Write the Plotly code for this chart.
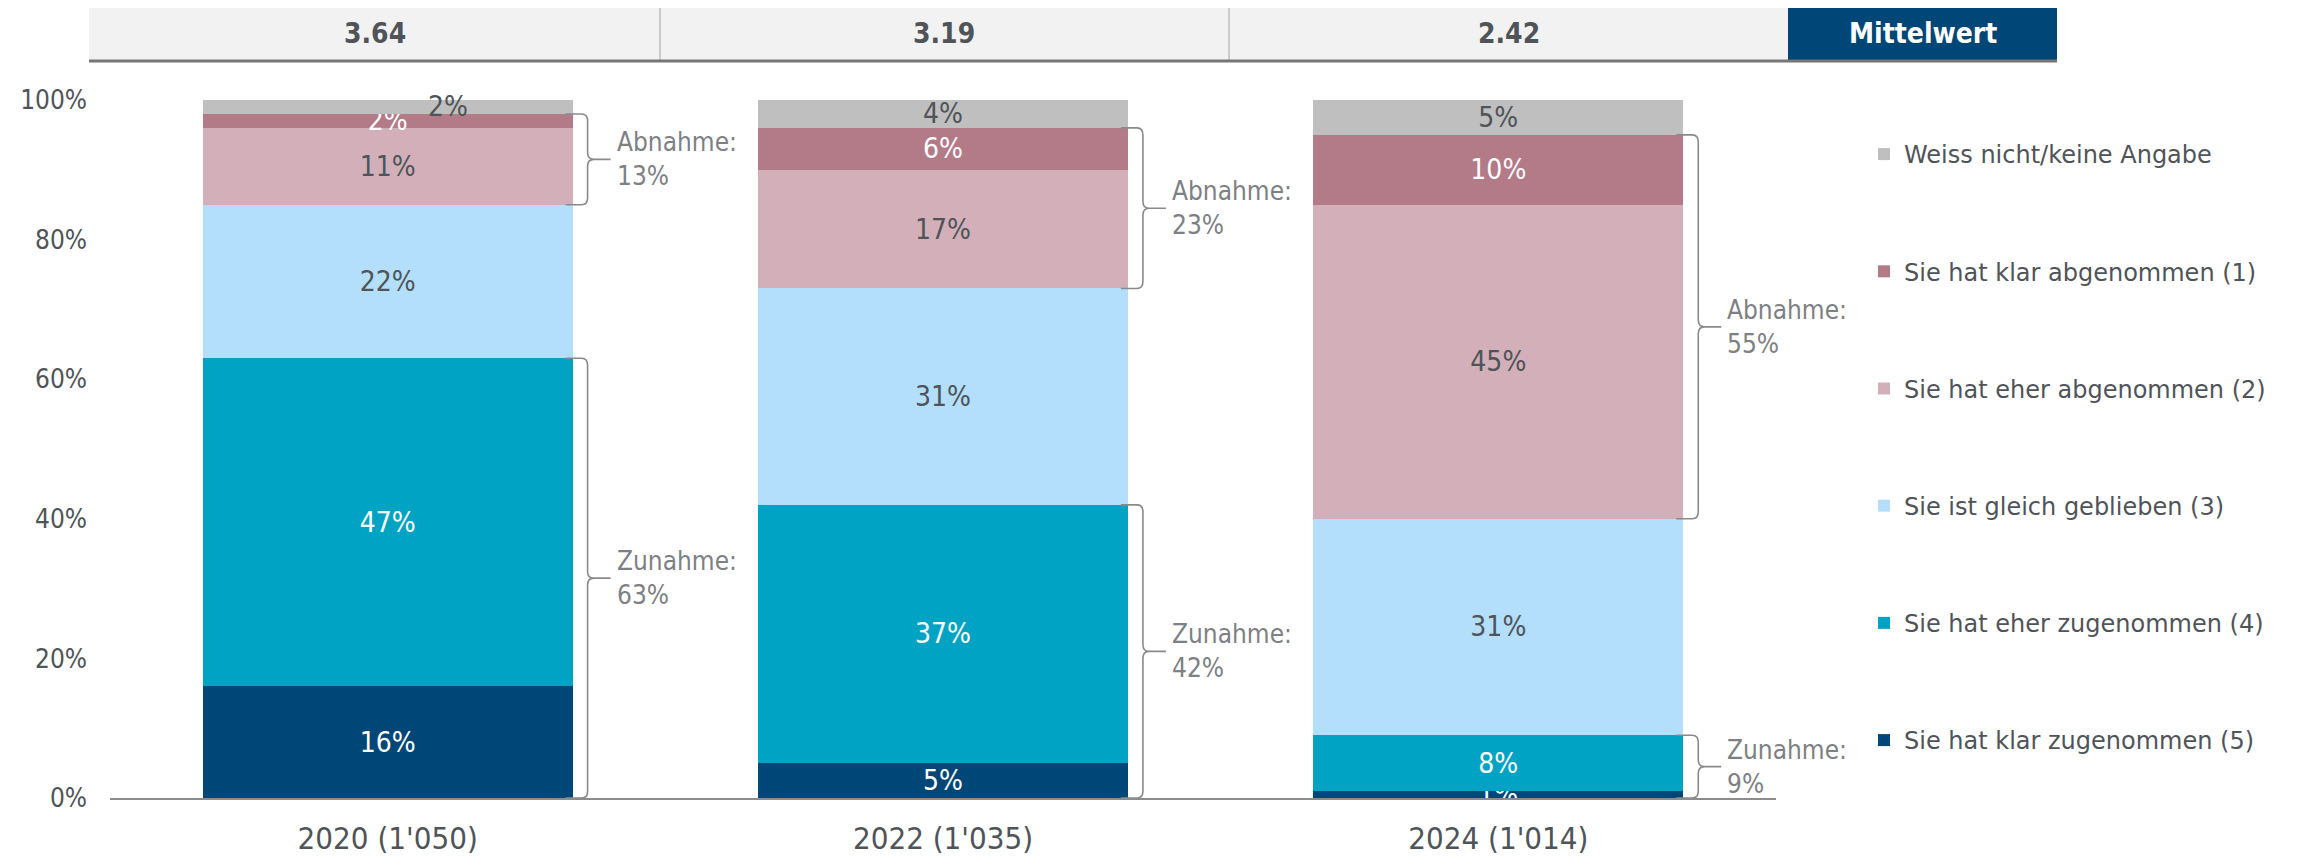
import plotly.graph_objects as go

# ---------------- data ----------------
years = ["2020 (1'050)", "2022 (1'035)", "2024 (1'014)"]
mittelwert = ["3.64", "3.19", "2.42"]
mittelwert_title = "Mittelwert"

klar_zu = [16, 5, 1]      # Sie hat klar zugenommen (5)
eher_zu = [47, 37, 8]     # Sie hat eher zugenommen (4)
gleich = [22, 31, 31]     # Sie ist gleich geblieben (3)
eher_ab = [11, 17, 45]    # Sie hat eher abgenommen (2)
klar_ab = [2, 6, 10]      # Sie hat klar abgenommen (1)
weiss = [2, 4, 5]         # Weiss nicht/keine Angabe

names = ["Sie hat klar zugenommen (5)", "Sie hat eher zugenommen (4)",
         "Sie ist gleich geblieben (3)", "Sie hat eher abgenommen (2)",
         "Sie hat klar abgenommen (1)", "Weiss nicht/keine Angabe"]
y_tick_vals = [0, 20, 40, 60, 80, 100]
y_tick_text = ["0%", "20%", "40%", "60%", "80%", "100%"]
label_zunahme = "Zunahme:"
label_abnahme = "Abnahme:"

# ---------------- styles ----------------
colors = ["#004677", "#00a3c4", "#b3dffd", "#d3b0b9", "#b37a87", "#bfbfbf"]
DARK = "#4f5459"
GREY = "#7d8084"
txt_colors = ["white", "white", DARK, DARK, "white", DARK]
COND = "DejaVu Sans Condensed"
BAR_W = 0.666

# page coordinates (the html body has an 8px margin)
OFF = 8
PAGE_W, PAGE_H = 2300, 858
PL, PR, PT, PB = 110, 1776, 100, 798      # plot area in page pixels
W, H = PAGE_W - OFF, PAGE_H - OFF
ML, MT = PL - OFF, PT - OFF
MR, MB = W - (PR - OFF), H - (PB - OFF)
PW, PH = PR - PL, PB - PT


def xp(px):
    return (px - PL) / PW


def yp(py):
    return (PB - py) / PH


series = [klar_zu, eher_zu, gleich, eher_ab, klar_ab, weiss]
xs = list(range(len(years)))

fig = go.Figure()
for k, (nm, vals) in enumerate(zip(names, series)):
    texts = [f"{v}%" for v in vals]
    if k == 5:
        texts[0] = ""  # shown shifted as annotation below
    fig.add_trace(go.Bar(
        x=xs, y=vals, name=nm, width=BAR_W,
        marker=dict(color=colors[k], line=dict(width=0)),
        text=texts, textposition="inside", insidetextanchor="middle",
        textangle=0, cliponaxis=True,
        insidetextfont=dict(family=COND, size=28, color=txt_colors[k]),
        legendgroup=nm, legendrank=100 - 10 * k, hoverinfo="skip",
    ))

annotations = []
shapes = []

# shifted label for small grey segment 2020
annotations.append(dict(
    x=0 + 0.108, y=100 - weiss[0] / 2, xref="x", yref="y",
    xanchor="center", yanchor="middle",
    text=f"{weiss[0]}%", showarrow=False,
    font=dict(family=COND, size=28, color=DARK)))

# braces
dx = 1.0 / (PW / 3.0)      # data units per pixel (x)
dy = 100.0 / PH            # data units per pixel (y)


def brace(i, yb, yt):
    R = i + BAR_W / 2
    ym = (yb + yt) / 2
    xl, xc, xv, xt = R - 7 * dx, R + 9 * dx, R + 15 * dx, R + 38 * dx
    r = 7 * dy
    p = (f"M{xl},{yt} L{xc},{yt} Q{xv},{yt} {xv},{yt - r} "
         f"L{xv},{ym + r} Q{xv},{ym} {R + 21 * dx},{ym} L{xt},{ym} "
         f"M{R + 21 * dx},{ym} Q{xv},{ym} {xv},{ym - r} "
         f"L{xv},{yb + r} Q{xv},{yb} {xc},{yb} L{xl},{yb}")
    shapes.append(dict(type="path", path=p, xref="x", yref="y",
                       line=dict(color="#8a8a8a", width=1.6)))
    return R + 42 * dx, ym


for i in xs:
    zu = klar_zu[i] + eher_zu[i]
    ab = eher_ab[i] + klar_ab[i]
    ab_bottom = klar_zu[i] + eher_zu[i] + gleich[i]
    tx, ty = brace(i, 0, zu)
    annotations.append(dict(x=tx, y=ty, xref="x", yref="y", xanchor="left",
                            yanchor="middle", align="left", showarrow=False,
                            text=f"{label_zunahme}<br>{zu}%",
                            font=dict(family=COND, size=26, color=GREY)))
    tx, ty = brace(i, ab_bottom, ab_bottom + ab)
    annotations.append(dict(x=tx, y=ty, xref="x", yref="y", xanchor="left",
                            yanchor="middle", align="left", showarrow=False,
                            text=f"{label_abnahme}<br>{ab}%",
                            font=dict(family=COND, size=26, color=GREY)))

# header row (Mittelwert)
cells = [89, 660, 1229, 1788, 2057]
top, bot = 7, 61
for c in range(4):
    fill = "#f2f2f2" if c < 3 else "#004677"
    shapes.append(dict(type="rect", xref="paper", yref="paper",
                       x0=xp(cells[c]), x1=xp(cells[c + 1]),
                       y0=yp(bot), y1=yp(top), fillcolor=fill,
                       line=dict(width=0), layer="below"))
for c in (1, 2):
    shapes.append(dict(type="line", xref="paper", yref="paper",
                       x0=xp(cells[c]), x1=xp(cells[c]),
                       y0=yp(bot), y1=yp(top),
                       line=dict(color="#a6a6a6", width=1)))
shapes.append(dict(type="line", xref="paper", yref="paper",
                   x0=xp(cells[0]), x1=xp(cells[4]), y0=yp(bot), y1=yp(bot),
                   line=dict(color="#767676", width=3)))
header_texts = mittelwert + [mittelwert_title]
for c, t in enumerate(header_texts):
    annotations.append(dict(
        x=xp((cells[c] + cells[c + 1]) / 2), y=yp(34), xref="paper",
        yref="paper", xanchor="center", yanchor="middle",
        text=t, showarrow=False,
        font=dict(family=COND, size=28, weight="bold",
                  color=DARK if c < 3 else "white")))

fig.update_layout(
    width=W, height=H, barmode="stack",
    margin=dict(l=ML, r=MR, t=MT, b=MB, autoexpand=False),
    paper_bgcolor="white", plot_bgcolor="white",
    uniformtext=dict(minsize=28, mode="show"),
    font=dict(family=COND, color=DARK),
    shapes=shapes, annotations=annotations,
    legend=dict(x=xp(1864), xanchor="left", y=yp(132), yanchor="top",
                traceorder="grouped", tracegroupgap=83,
                font=dict(family="DejaVu Sans", size=24, color=DARK),
                bgcolor="rgba(0,0,0,0)"),
    xaxis=dict(range=[-0.5, 2.5], tickvals=xs, ticktext=years,
               showgrid=False, zeroline=False, showline=True,
               linecolor="#8c8c8c", linewidth=1.5, ticks="",
               tickfont=dict(family=COND, size=31, color=DARK),
               ticklabelstandoff=12, fixedrange=True),
    yaxis=dict(range=[0, 100], tickvals=y_tick_vals, ticktext=y_tick_text,
               showgrid=False, zeroline=False, showline=False, ticks="",
               tickfont=dict(family=COND, size=26, color=DARK),
               ticklabelstandoff=22, fixedrange=True),
    showlegend=True,
)

fig.write_html("out.html")
